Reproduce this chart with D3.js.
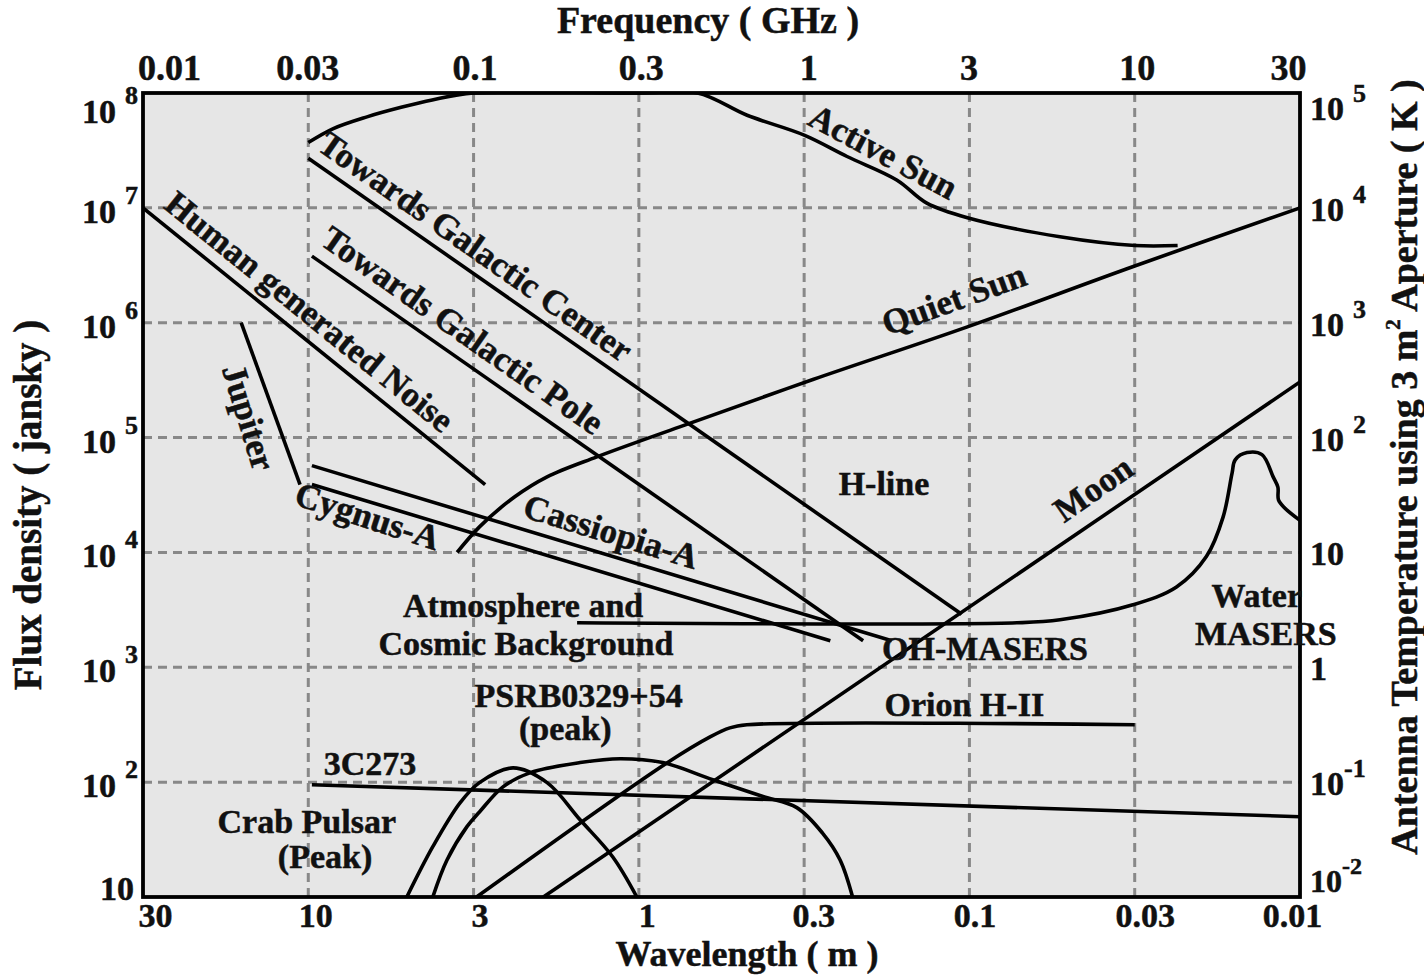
<!DOCTYPE html>
<html><head><meta charset="utf-8">
<script src="https://cdn.jsdelivr.net/npm/d3@7/dist/d3.min.js"></script>
<style>
body{margin:0;background:#fff;}
svg text{font-family:"Liberation Serif","Times New Roman",serif;font-weight:bold;fill:#111;stroke:#111;stroke-width:0.5px;}
</style></head><body>
<svg id="chart" width="1424" height="976"></svg>
<script>
// ---------- axis ticks ----------
const freqTicks=[0.01,0.03,0.1,0.3,1,3,10,30];
const freqTickLabels=["0.01","0.03","0.1","0.3","1","3","10","30"];
const waveTicks=[30,10,3,1,0.3,0.1,0.03,0.01];
const waveTickLabels=["30","10","3","1","0.3","0.1","0.03","0.01"];
const fluxTicks=[10,1e2,1e3,1e4,1e5,1e6,1e7,1e8];
const fluxTickBase=["10","10","10","10","10","10","10","10"];
const fluxTickExp=["","2","3","4","5","6","7","8"];
const tempTicks=[0.01,0.1,1,10,100,1e3,1e4,1e5];
const tempTickBase=["10","10","1","10","10","10","10","10"];
const tempTickExp=["-2","-1","","","2","3","4","5"];

// ---------- series (frequency GHz, flux density Jy) ----------
const activeSunFreq=[0.03,0.036,0.046,0.059,0.074,0.1,0.3,0.46,0.66,1.0,1.33,1.85,2.26,2.96,5.8,10,13.3];
const activeSunFlux=[3.7e7,4.9e7,6.2e7,7.5e7,8.7e7,1e8,1e8,1e8,6.4e7,4.3e7,2.8e7,1.75e7,1.1e7,8.2e6,5.6e6,4.7e6,4.7e6];
const galCenterFreq=[0.03,2.85];
const galCenterFlux=[2.7e7,2.9e3];
const galPoleFreq=[0.0308,1.48];
const galPoleFlux=[3.8e6,1.7e3];
const humanNoiseFreq=[0.01,0.108];
const humanNoiseFlux=[1e7,3.9e4];
const jupiterFreq=[0.0192,0.0284];
const jupiterFlux=[1e6,3.9e4];
const cassiopeiaFreq=[0.0308,1.79];
const cassiopeiaFlux=[5.7e4,1.7e3];
const cygnusFreq=[0.0308,1.19];
const cygnusFlux=[3.9e4,1.7e3];
const quietSunFreq=[0.0887,0.104,0.1315,0.163,0.227,0.404,1.06,2.96,10,30];
const quietSunFlux=[1e4,1.67e4,3.05e4,4.55e4,6.8e4,1.24e5,3.2e5,9.2e5,3.12e6,1e7];
const moonFreq=[0.159,30];
const moonFlux=[10,3.05e5];
const orionFreq=[0.102,0.368,0.504,0.582,0.659,10];
const orionFlux=[10,147,248,297,316,316];
const c3c273Freq=[0.0308,30];
const c3c273Flux=[95,50];
const crabFreq=[0.0615,0.0743,0.0906,0.104,0.130,0.163,0.203,0.252,0.296];
const crabFlux=[10,27.4,66,99,133,99,47,22.4,10];
const psrFreq=[0.0743,0.0824,0.0953,0.104,0.1216,0.146,0.203,0.265,0.357,0.514,0.741,0.948,1.13,1.27,1.38];
const psrFlux=[10,21,41,55,91,121,148,160,148,105,75,60,36,21,10];
const atmWaterFreq=[0.199,4.24,5.8,9.87,13.2,16.1,18.0,19.1,19.5,21.1,23.3,25.1,25.9,26.0,27.1,30];
const atmWaterFlux=[2440,2440,2590,3500,5000,9200,2.04e4,4.9e4,6.4e4,7.4e4,7.1e4,4.55e4,3.7e4,2.87e4,2.44e4,1.9e4];

// ---------- annotations (text, frequency, flux, rotation) ----------
const annotations=[
 {t:"Active Sun",f:1.63,s:2.5e7,r:28},
 {t:"Towards Galactic Center",f:0.0966,s:3.8e6,r:35},
 {t:"Towards Galactic Pole",f:0.0879,s:7.1e5,r:35},
 {t:"Human generated Noise",f:0.0288,s:1.04e6,r:39},
 {t:"Jupiter",f:0.01875,s:1.4e5,r:73},
 {t:"Cygnus-A",f:0.045,s:1.65e4,r:18},
 {t:"Cassiopia-A",f:0.244,s:1.21e4,r:17},
 {t:"Quiet Sun",f:2.78,s:1.29e6,r:-20},
 {t:"Moon",f:7.76,s:2.95e4,r:-35},
 {t:"H-line",f:1.70,s:3.17e4,r:0},
 {t:"Atmosphere and",f:0.139,s:2.75e3,r:0},
 {t:"Cosmic Background",f:0.1416,s:1.29e3,r:0},
 {t:"OH-MASERS",f:3.36,s:1.16e3,r:0},
 {t:"Water",f:22.5,s:3.37e3,r:0},
 {t:"MASERS",f:23.9,s:1.57e3,r:0},
 {t:"Orion H-II",f:2.9,s:378,r:0},
 {t:"PSRB0329+54",f:0.201,s:453,r:0},
 {t:"(peak)",f:0.184,s:234,r:0},
 {t:"3C273",f:0.047,s:116,r:0},
 {t:"Crab Pulsar",f:0.0297,s:36.3,r:0},
 {t:"(Peak)",f:0.0339,s:18.0,r:0}
];

const series=[
 {f:activeSunFreq,s:activeSunFlux,smooth:true},
 {f:galCenterFreq,s:galCenterFlux},
 {f:galPoleFreq,s:galPoleFlux},
 {f:humanNoiseFreq,s:humanNoiseFlux},
 {f:jupiterFreq,s:jupiterFlux},
 {f:cassiopeiaFreq,s:cassiopeiaFlux},
 {f:cygnusFreq,s:cygnusFlux},
 {f:quietSunFreq,s:quietSunFlux,smooth:true},
 {f:moonFreq,s:moonFlux},
 {f:orionFreq,s:orionFlux,smooth:true},
 {f:c3c273Freq,s:c3c273Flux},
 {f:crabFreq,s:crabFlux,smooth:true},
 {f:psrFreq,s:psrFlux,smooth:true},
 {f:atmWaterFreq,s:atmWaterFlux,smooth:true}
];

// ---------- layout ----------
const L=143,R=1300,T=93,B=897;
const step=(R-L)/(freqTicks.length-1);
const pos=freqTicks.map((d,i)=>L+i*step);
const x=d3.scaleLog().domain(freqTicks).range(pos);
const xw=d3.scaleLog().domain(waveTicks).range(pos);
const y=d3.scaleLog().domain([10,1e8]).range([B,T]);
const yT=d3.scaleLog().domain([0.01,1e5]).range([B,T]);

const svg=d3.select("#chart");
svg.append("defs").append("clipPath").attr("id","plotclip")
  .append("rect").attr("x",L).attr("y",T).attr("width",R-L).attr("height",B-T);

svg.append("rect").attr("x",L).attr("y",T).attr("width",R-L).attr("height",B-T).attr("fill","#e6e6e6");

// grid
const grid=svg.append("g").attr("stroke","#888").attr("stroke-width",3).attr("stroke-dasharray","9,6");
grid.selectAll("line.v").data(freqTicks.slice(1,-1)).join("line")
  .attr("x1",d=>x(d)).attr("x2",d=>x(d)).attr("y1",T).attr("y2",B);
grid.selectAll("line.h").data(fluxTicks.slice(1,-1)).join("line")
  .attr("x1",L).attr("x2",R).attr("y1",d=>y(d)).attr("y2",d=>y(d));

// curves
const plot=svg.append("g").attr("clip-path","url(#plotclip)");
series.forEach(sr=>{
  const pts=sr.f.map((f,i)=>[f,sr.s[i]]);
  const line=d3.line().x(d=>x(d[0])).y(d=>y(d[1]))
    .curve(sr.smooth?d3.curveCatmullRom.alpha(0.5):d3.curveLinear);
  plot.append("path").attr("d",line(pts)).attr("fill","none")
    .attr("stroke","#000").attr("stroke-width",3.6).attr("stroke-linejoin","round");
});

// frame
svg.append("rect").attr("x",L).attr("y",T).attr("width",R-L).attr("height",B-T)
  .attr("fill","none").attr("stroke","#000").attr("stroke-width",3.8);

// top axis (frequency)
const topShift=[26,-1,1,2,4,-1,2,-12];
const gTop=svg.append("g").attr("transform",`translate(0,${T})`)
  .call(d3.axisTop(x).tickValues(freqTicks).tickFormat((d,i)=>freqTickLabels[i]).tickSize(0).tickPadding(13));
gTop.select(".domain").remove();
gTop.selectAll("text").attr("font-size",36).attr("font-family",null).attr("dx",(d,i)=>topShift[i]);

// bottom axis (wavelength)
const botShift=[12,7,6,8,9,5,10,-8];
const gBot=svg.append("g").attr("transform",`translate(0,${B})`)
  .call(d3.axisBottom(xw).tickValues(waveTicks).tickFormat((d,i)=>waveTickLabels[i]).tickSize(0));
gBot.select(".domain").remove();
gBot.selectAll("text").attr("font-size",34).attr("font-family",null).attr("y",30).attr("dy",0).attr("dx",(d,i)=>botShift[i]);

// left axis (flux)
const gLeft=svg.append("g");
fluxTicks.forEach((v,i)=>{
  const off=i===0?3:(i===fluxTicks.length-1?30:15);
  const tx=gLeft.append("text").attr("x",i===0?134:138).attr("y",y(v)+off).attr("text-anchor","end");
  tx.append("tspan").attr("font-size",34).text(fluxTickBase[i]);
  if(fluxTickExp[i]) tx.append("tspan").attr("font-size",26).attr("dx",9).attr("dy",-19).text(fluxTickExp[i]);
});

// right axis (antenna temperature)
const gRight=svg.append("g");
tempTicks.forEach((v,i)=>{
  const off=i===0?-5:(i===tempTicks.length-1?27:13);
  const tx=gRight.append("text").attr("x",1310).attr("y",yT(v)+off).attr("text-anchor","start");
  tx.append("tspan").attr("font-size",i===0?32:34).text(tempTickBase[i]);
  if(tempTickExp[i]) tx.append("tspan").attr("font-size",i===0?24:26).attr("dx",tempTickExp[i].startsWith("-")?0:9).attr("dy",-18).text(tempTickExp[i]);
});

// axis titles
svg.append("text").attr("x",708).attr("y",33).attr("text-anchor","middle").attr("font-size",38).text("Frequency ( GHz )");
svg.append("text").attr("x",747).attr("y",966).attr("text-anchor","middle").attr("font-size",36).text("Wavelength ( m )");
svg.append("text").attr("transform","translate(41,505) rotate(-90)").attr("text-anchor","middle").attr("font-size",39).text("Flux density ( jansky )");
const rt=svg.append("text").attr("transform","translate(1417,467) rotate(-90)").attr("text-anchor","middle").attr("font-size",38);
rt.append("tspan").text("Antenna Temperature using 3 m");
rt.append("tspan").attr("font-size",21).attr("dy",-17).text("2");
rt.append("tspan").attr("dy",17).text("  Aperture ( K )");

// annotations
annotations.forEach(a=>{
  svg.append("text")
    .attr("transform",`translate(${x(a.f)},${y(a.s)}) rotate(${a.r})`)
    .attr("text-anchor","middle").attr("font-size",a.r===0?34:35).text(a.t);
});
</script>
</body></html>
